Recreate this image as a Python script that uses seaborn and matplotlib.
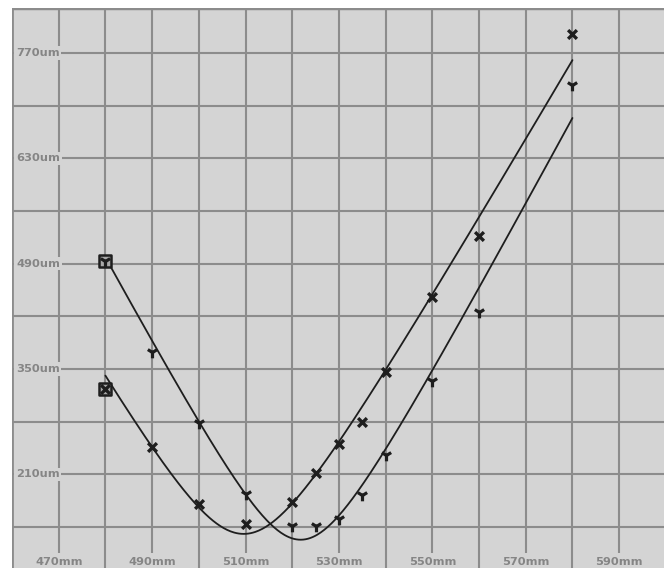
import numpy as np
import pandas as pd
import matplotlib
matplotlib.use("Agg")
import matplotlib.pyplot as plt
import matplotlib.transforms as mtransforms
import seaborn as sns

# Measured beam diameters along the propagation axis
z_mm = [480, 490, 500, 510, 520, 525, 530, 535, 540, 550, 560, 580]
dx_um = [323, 246, 171, 144, 173, 212, 250, 280, 346, 446, 527, 795]
dy_um = [494, 373, 278, 184, 141, 141, 151, 183, 236, 334, 426, 727]

x_label_ticks = [470, 490, 510, 530, 550, 570, 590]
y_label_ticks = [210, 350, 490, 630, 770]
x_grid = list(range(470, 600, 10))
y_grid = list(range(140, 830, 70))

BG = "#d4d4d4"
GRID = "#8c8c8c"
TEXT = "#858585"
INK = "#1e1e1e"


def caustic_fit(z, d):
    """Least-squares hyperbola d(z) = sqrt(w^2 + s^2 (z - z0)^2)."""
    z = np.asarray(z, float)
    d = np.asarray(d, float)
    c2, c1, c0 = np.polyfit(z, d ** 2, 2)
    z0 = -c1 / (2 * c2)
    p = np.array([np.sqrt(max(c0 - c1 ** 2 / (4 * c2), 100.0)), z0, np.sqrt(c2)])

    def residual(q):
        return np.sqrt(q[0] ** 2 + q[2] ** 2 * (z - q[1]) ** 2) - d

    lam = 1e-3
    for _ in range(300):
        w, z0, s = p
        f = np.sqrt(w ** 2 + s ** 2 * (z - z0) ** 2)
        r = f - d
        J = np.column_stack([w / f, -s ** 2 * (z - z0) / f, s * (z - z0) ** 2 / f])
        A = J.T @ J
        g = J.T @ r
        step = np.linalg.solve(A + lam * np.diag(np.diag(A)), -g)
        pn = p + step
        if np.sum(residual(pn) ** 2) < np.sum(r ** 2):
            p = pn
            lam *= 0.3
        else:
            lam *= 10
    return p


def caustic(p, z):
    w, z0, s = p
    return np.sqrt(w ** 2 + s ** 2 * (z - z0) ** 2)


sns.set_theme(style="white")
plt.rcParams["font.family"] = ["DejaVu Sans"]

fig = plt.figure(figsize=(6.64, 5.68), dpi=100)
fig.patch.set_facecolor("white")
ax = fig.add_axes([12 / 664, 0, 652 / 664, 560 / 568])
ax.set_facecolor(BG)
ax.set_xlim(460, 599.6)
ax.set_ylim(85.5, 829.8)

for s in ax.spines.values():
    s.set_visible(False)
ax.set_xticks([])
ax.set_yticks([])

# grid
for gx in x_grid:
    ax.axvline(gx, color=GRID, lw=1.5, zorder=1)
for gy in y_grid:
    ax.axhline(gy, color=GRID, lw=1.5, zorder=1)
ax.axvline(460, color=GRID, lw=2.0, zorder=1)
ax.axhline(829.8, color=GRID, lw=2.5, zorder=1)

# fitted caustics
zz = np.linspace(min(z_mm), max(z_mm), 400)
fit_x = caustic_fit(z_mm, dx_um)
fit_y = caustic_fit(z_mm, dy_um)
curves = pd.concat([
    pd.DataFrame({"z": zz, "d": caustic(fit_x, zz), "axis": "X"}),
    pd.DataFrame({"z": zz, "d": caustic(fit_y, zz), "axis": "Y"}),
])
sns.lineplot(data=curves, x="z", y="d", hue="axis", palette=[INK, INK],
             lw=1.3, legend=False, ax=ax, zorder=3, sort=False, estimator=None)

# first measurement boxed
ax.scatter([z_mm[0], z_mm[0]], [dx_um[0], dy_um[0]], marker="s", s=68,
           facecolor="#a8a8a8", edgecolor=INK, linewidth=1.8, zorder=4)

pts = pd.DataFrame({"z": z_mm, "dx": dx_um, "dy": dy_um})
sns.scatterplot(data=pts, x="z", y="dx", marker="x", s=40, color=INK,
                linewidth=2.4, ax=ax, zorder=5)
sns.scatterplot(data=pts, x="z", y="dy", marker="1", s=70, color=INK,
                linewidth=2.3, ax=ax, zorder=5)
ax.set_xlabel("")
ax.set_ylabel("")

# axis labels drawn inside the plot
ytr = mtransforms.blended_transform_factory(ax.transAxes, ax.transData)
for v in y_label_ticks:
    ax.text(4 / 652, v, f"{v}um", transform=ytr, ha="left", va="center",
            fontsize=8.2, fontweight="bold", color=TEXT, zorder=6,
            bbox=dict(boxstyle="square,pad=0.15", fc=BG, ec="none"))
xtr = mtransforms.blended_transform_factory(ax.transData, ax.transAxes)
for v in x_label_ticks:
    ax.text(v, 6.0 / 560, f"{v}mm", transform=xtr, ha="center", va="center",
            fontsize=8.2, fontweight="bold", color=TEXT, zorder=6,
            bbox=dict(boxstyle="square,pad=0.35", fc=BG, ec="none"))

fig.savefig("out.png", dpi=100, facecolor="white")
